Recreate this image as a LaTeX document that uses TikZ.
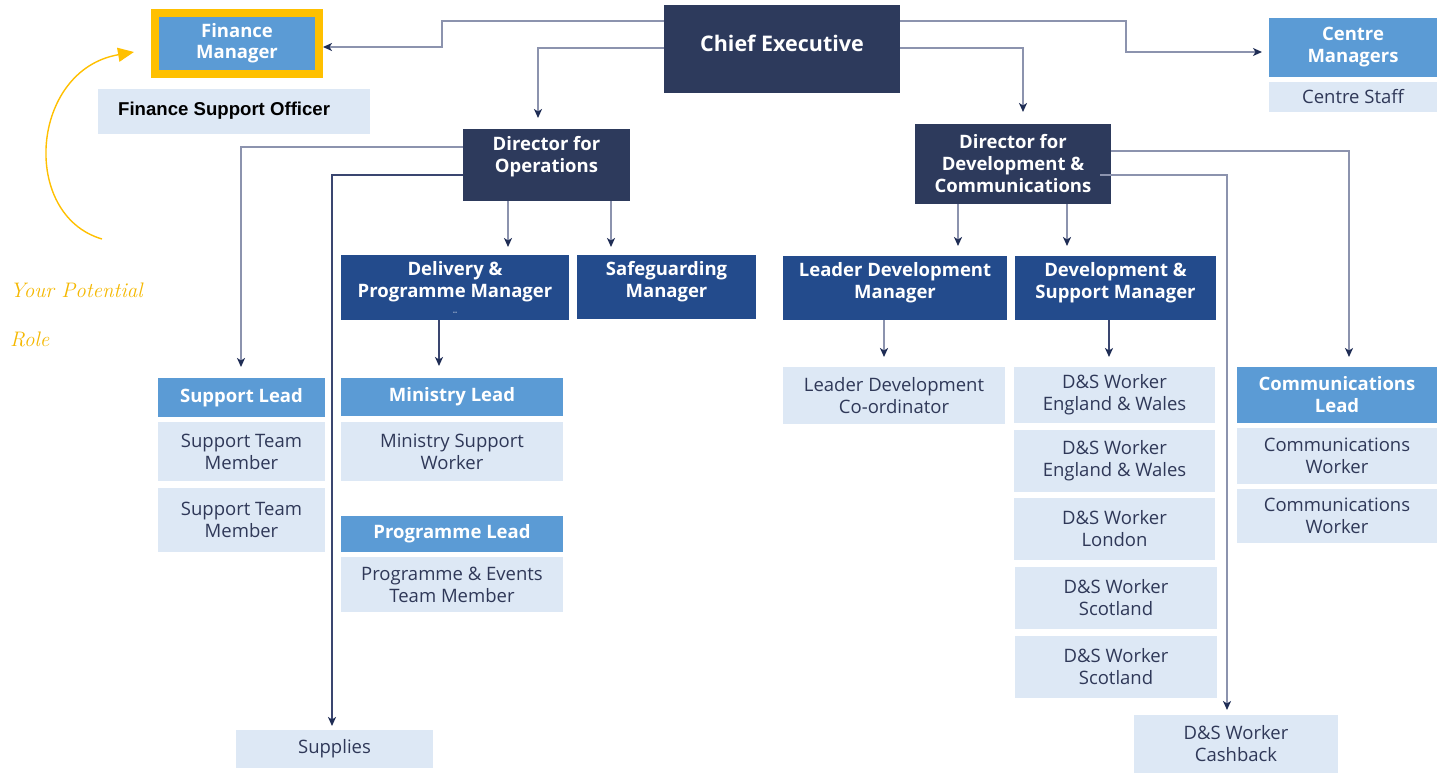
\documentclass[tikz,border=0pt]{standalone}
\usepackage{fontspec}
\newfontfamily\lato{Open Sans}
\newfontfamily\arialf{Liberation Sans}
\usetikzlibrary{arrows.meta}
\definecolor{cdark}{HTML}{2D3A5C}
\definecolor{cnavy}{HTML}{234B8C}
\definecolor{cmid}{HTML}{5B9BD5}
\definecolor{clight}{HTML}{DDE8F5}
\definecolor{ctext}{HTML}{2F3858}
\definecolor{cyel}{HTML}{FFC000}
\definecolor{cscript}{HTML}{F5B800}
\definecolor{cline}{HTML}{8C93AE}
\definecolor{clined}{HTML}{3A4670}
\definecolor{carrow}{HTML}{1F2D55}
\begin{document}
\begin{tikzpicture}[x=1pt,y=-1pt,
  box/.style={rectangle, inner sep=0pt, outer sep=0pt, anchor=north west, align=center},
  sz/.style 2 args={minimum width=#1pt, minimum height=#2pt},
  wbold/.style={text=white, font=\lato\bfseries\fontsize{18.5}{22}\selectfont},
  exec/.style={box, fill=cdark, wbold},
  mgr/.style={box, fill=cnavy, wbold},
  lead/.style={box, fill=cmid, wbold},
  staff/.style={box, fill=clight, text=ctext, font=\lato\fontsize{18.5}{22}\selectfont},
  conn/.style={draw=cline, line width=1.6pt, -{Stealth[length=9pt,width=8pt,inset=2.5pt,color=carrow]}},
  connd/.style={conn, draw=clined},
  scripttext/.style={anchor=base west, inner sep=0pt, text=cscript, font=\itshape\fontsize{21}{24}\selectfont}
]
\fill[white] (0,0) rectangle (1441,773);
\useasboundingbox (0,0) rectangle (1441,773);

% ---- top row
\node[box, sz={164}{61}, fill=cmid, draw=cyel, line width=8pt, wbold] (fm) at (155,13) {Finance\\[-1pt]Manager};
\node[box, sz={272}{45}, fill=clight] (fso) at (98,89) {};
\node[anchor=west, inner sep=0pt, font=\arialf\bfseries\fontsize{18.6}{22}\selectfont] (fsot) at (118,111) {Finance Support Officer};

\node[exec, sz={236}{88}] (ce) at (664,5) {};
\node[inner sep=0pt, text=white, font=\lato\bfseries\fontsize{21.5}{26}\selectfont] (cet) at (782,43) {Chief Executive};

\node[lead, sz={168}{59}] (cm) at (1269,18) {Centre\\Managers};
\node[staff, sz={168}{30}] (cs) at (1269,82) {Centre Staff};

% ---- directors
\node[exec, sz={167}{72}] (dops) at (463,129) {};
\node[inner sep=0pt, align=center, wbold] (dopst) at (546.5,157) {Director for\\Operations};
\node[exec, sz={196}{80}] (ddev) at (915,124) {Director for\\Development \&\\Communications};

% ---- managers
\node[mgr, sz={228}{65}] (dpm) at (341,255) {Delivery \&\\Programme Manager\\[-6pt]\hphantom{x}};
\node[inner sep=0pt, text=white, font=\lato\fontsize{7}{8}\selectfont] (dpmdash) at (455,313) {--};
\node[mgr, sz={179}{64}] (sgm) at (577,255) {Safeguarding\\Manager\\[-6pt]\hphantom{x}};
\node[mgr, sz={224}{64}] (ldm) at (783,256) {Leader Development\\Manager\\[-6pt]\hphantom{x}};
\node[mgr, sz={201}{64}] (dsm) at (1015,256) {Development \&\\Support Manager\\[-6pt]\hphantom{x}};

% ---- operations column
\node[lead, sz={167}{39}] (sl) at (158,378) {Support Lead};
\node[staff, sz={167}{59}] (stm1) at (158,422) {Support Team\\Member};
\node[staff, sz={167}{64}] (stm2) at (158,488) {Support Team\\Member};
\node[lead, sz={222}{38}] (ml) at (341,378) {Ministry Lead};
\node[staff, sz={222}{59}] (msw) at (341,422) {Ministry Support\\Worker};
\node[lead, sz={222}{36}] (pl) at (341,516) {Programme Lead};
\node[staff, sz={222}{55}] (pet) at (341,557) {Programme \& Events\\Team Member};
\node[staff, sz={197}{38}] (sup) at (236,730) {Supplies};

% ---- development column
\node[staff, sz={222}{57}] (ldc) at (783,367) {Leader Development\\Co-ordinator};
\node[staff, sz={201}{56}] (dsw1) at (1014,367) {D\&S Worker\\England \& Wales};
\node[staff, sz={201}{62}] (dsw2) at (1014,430) {D\&S Worker\\England \& Wales};
\node[staff, sz={201}{62}] (dsw3) at (1014,498) {D\&S Worker\\London};
\node[staff, sz={202}{62}] (dsw4) at (1015,567) {D\&S Worker\\Scotland};
\node[staff, sz={202}{62}] (dsw5) at (1015,636) {D\&S Worker\\Scotland};
\node[lead, sz={200}{56}] (cl) at (1237,367) {Communications\\Lead};
\node[staff, sz={200}{56}] (cw1) at (1237,428) {Communications\\Worker};
\node[staff, sz={200}{54}] (cw2) at (1237,489) {Communications\\Worker};
\node[staff, sz={204}{58}] (cb) at (1134,715) {D\&S Worker\\Cashback};

% ---- "your potential role"
\node[scripttext] (yp) at (10,297) {Your Potential};
\node[scripttext] (yr) at (10,346) {Role};
\coordinate (cstart) at (102,239);
\draw[cyel, line width=1.4pt, -{Triangle[length=16pt,width=14pt]}] (cstart) .. controls (20,215) and (30,70) .. ([xshift=-21pt,yshift=-8.5pt]fm.west);

% ---- connectors
\draw[conn] ([yshift=-16pt]ce.north west) -- ++(-222,0) |- ([xshift=4pt,yshift=-3.5pt]fm.east);
\draw[conn, shorten >=11pt] ([yshift=-43pt]ce.north west) -| ([xshift=-8.5pt]dops.north);
\draw[conn, shorten >=7pt] ([yshift=-16pt]ce.north east) -- ++(226,0) |- ([yshift=-4.5pt]cm.west);
\draw[conn, shorten >=12pt] ([yshift=-43pt]ce.north east) -| ([xshift=10pt]ddev.north);

\draw[conn, shorten >=11pt] ([yshift=-18pt]dops.north west) -| ([xshift=-0.5pt]sl.north);
\draw[connd, shorten >=4pt] ([yshift=-46pt]dops.north west) -| ([xshift=-2.5pt]sup.north);
\draw[conn, shorten >=8pt] ([xshift=45pt]dops.south west) -- ([xshift=45pt]dops.south west |- dpm.north);
\draw[conn, shorten >=8pt] ([xshift=148pt]dops.south west) -- ([xshift=148pt]dops.south west |- sgm.north);
\draw[connd, shorten >=12pt] ([xshift=98pt]dpm.south west) -- ([xshift=98pt]dpm.south west |- ml.north);

\draw[conn, shorten >=10pt] ([xshift=43pt]ddev.south west) -- ([xshift=43pt]ddev.south west |- ldm.north);
\draw[conn, shorten >=10pt] ([xshift=152pt]ddev.south west) -- ([xshift=152pt]ddev.south west |- dsm.north);
\draw[conn, shorten >=10pt] ([yshift=-27pt]ddev.north east) -| ([xshift=12pt]cl.north);
\draw[conn, shorten >=5pt] ([xshift=-11pt,yshift=-51pt]ddev.north east) -| ([xshift=-9pt]cb.north);
\draw[conn, shorten >=10pt] ([xshift=101pt]ldm.south west) -- ([xshift=101pt]ldm.south west |- ldc.north);
\draw[connd, shorten >=10pt] ([xshift=94pt]dsm.south west) -- ([xshift=94pt]dsm.south west |- dsw1.north);
\end{tikzpicture}
\end{document}
